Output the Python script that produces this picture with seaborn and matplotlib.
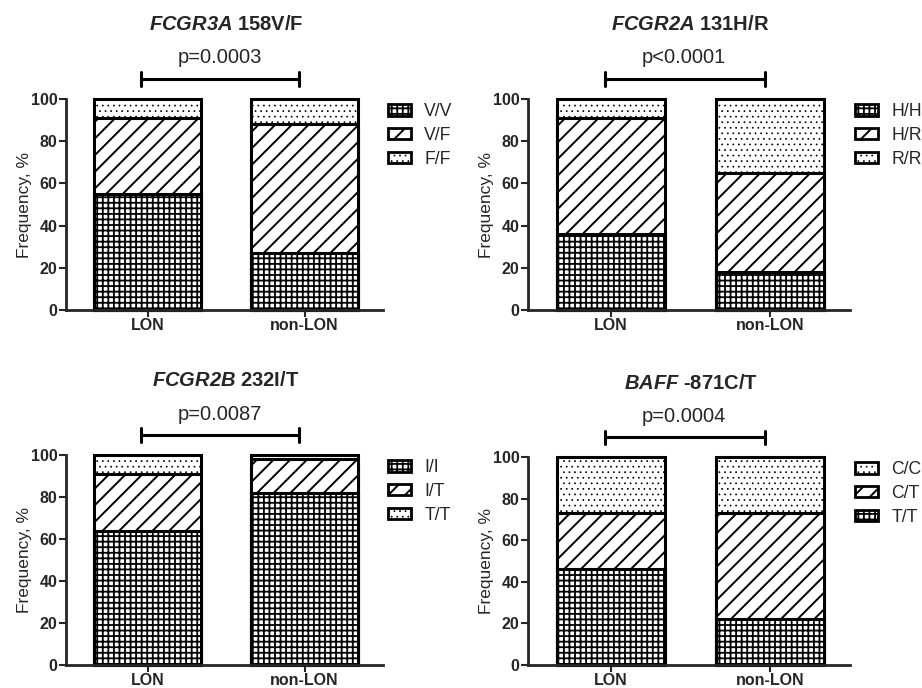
import matplotlib
matplotlib.use("Agg")
import matplotlib.pyplot as plt
import matplotlib.patches as mpatches
import seaborn as sns
import pandas as pd

# groups on the x axis
groups = ["LON", "non-LON"]

# FCGR3A 158V/F  (segments bottom -> top)
fcgr3a_labels = ["V/V", "V/F", "F/F"]
fcgr3a_lon = [55, 36, 9]
fcgr3a_non = [27, 61, 12]

# FCGR2A 131H/R
fcgr2a_labels = ["H/H", "H/R", "R/R"]
fcgr2a_lon = [36, 55, 9]
fcgr2a_non = [18, 47, 35]

# FCGR2B 232I/T
fcgr2b_labels = ["I/I", "I/T", "T/T"]
fcgr2b_lon = [64, 27, 9]
fcgr2b_non = [82, 16, 2]

# BAFF -871C/T
baff_labels = ["T/T", "C/T", "C/C"]
baff_lon = [46, 27, 27]
baff_non = [22, 51, 27]

titles = [r"$\mathbfit{FCGR3A}$ 158V/F", r"$\mathbfit{FCGR2A}$ 131H/R",
          r"$\mathbfit{FCGR2B}$ 232I/T", r"$\mathbfit{BAFF}$ -871C/T"]
pvalues = ["p=0.0003", "p<0.0001", "p=0.0087", "p=0.0004"]

sns.set_style("ticks")
plt.rcParams["font.family"] = ["Liberation Sans", "DejaVu Sans"]
plt.rcParams["mathtext.fontset"] = "custom"
plt.rcParams["mathtext.bfit"] = "Liberation Sans:italic:bold"
plt.rcParams["mathtext.rm"] = "Liberation Sans:bold"
plt.rcParams["hatch.linewidth"] = 1.3

hatches = ["+++", "//", "..."]     # bottom, middle, top
hatch_lw = [1.3, 1.4, 0.5]


def style_hatch(p, k):
    p.set_hatch(hatches[k])
    if hasattr(p, "set_hatch_linewidth"):
        p.set_hatch_linewidth(hatch_lw[k])


fig = plt.figure(figsize=(9.22, 6.88), dpi=100)
W, H = 922, 688
boxes = [(66, 310, 317, 211), (528, 310, 322, 211),
         (66, 665, 317, 210), (528, 665, 322, 208)]

panels = [
    (fcgr3a_labels, fcgr3a_lon, fcgr3a_non, False),
    (fcgr2a_labels, fcgr2a_lon, fcgr2a_non, False),
    (fcgr2b_labels, fcgr2b_lon, fcgr2b_non, False),
    (baff_labels, baff_lon, baff_non, True),
]

for i, (labels, lon, non, rev) in enumerate(panels):
    x0, yb, w, h = boxes[i]
    ax = fig.add_axes([x0 / W, 1 - yb / H, w / W, h / H])

    # cumulative heights, draw tallest first so lower segments sit on top
    cum_lon = pd.Series(lon).cumsum().tolist()
    cum_non = pd.Series(non).cumsum().tolist()
    for k in [2, 1, 0]:
        n0 = len(ax.patches)
        df = pd.DataFrame({"group": groups, "freq": [cum_lon[k], cum_non[k]]})
        sns.barplot(data=df, x="group", y="freq", color="white", edgecolor="black",
                    linewidth=2.2, width=0.68, saturation=1, ax=ax)
        for b in ax.patches[n0:]:
            style_hatch(b, k)
            b.set_facecolor("white")
            b.set_clip_on(False)

    ax.set_xlim(-0.52, 1.5)
    ax.set_ylim(0, 100)
    ax.set_yticks([0, 20, 40, 60, 80, 100])
    ax.set_xlabel("")
    ax.set_ylabel("Frequency, %", fontsize=12.5, labelpad=-1)
    sns.despine(ax=ax)
    for s in ["left", "bottom"]:
        ax.spines[s].set_linewidth(2)
    ax.tick_params(axis="both", length=5, width=1.5, labelsize=11.5, pad=1)
    for t in ax.get_xticklabels() + ax.get_yticklabels():
        t.set_fontweight("bold")

    # significance bracket
    ax.plot([-0.04, 0.965], [109.5, 109.5], color="black", lw=2.2, clip_on=False)
    for xe in [-0.04, 0.965]:
        ax.plot([xe, xe], [106.3, 112.7], color="black", lw=2.2, clip_on=False)
    ax.text(0.46, 119.5, pvalues[i], ha="center", va="center", fontsize=14.5)
    ax.text(0.5, 135.5, titles[i], ha="center", va="center", fontsize=14.5,
            fontweight="bold")

    order = [2, 1, 0] if rev else [0, 1, 2]
    handles = []
    for k in order:
        hp = mpatches.Patch(facecolor="white", edgecolor="black", linewidth=2,
                            label=labels[k])
        style_hatch(hp, k)
        handles.append(hp)
    leg = ax.legend(handles=handles, loc="upper left", bbox_to_anchor=(1.016, 0.98),
                    frameon=False, fontsize=12.7, handlelength=1.3, handleheight=0.6,
                    labelspacing=0.38, handletextpad=0.75, borderpad=0,
                    borderaxespad=0)
    for lp, k in zip(leg.get_patches(), order):
        style_hatch(lp, k)

fig.savefig("out.png", dpi=100)
